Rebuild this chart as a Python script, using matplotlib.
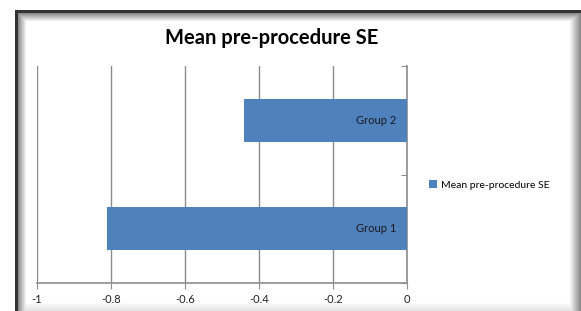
import numpy as np
import matplotlib
matplotlib.use('Agg')
import matplotlib.pyplot as plt

# dados
grupos = ['Group 1', 'Group 2']
valores = [-0.81, -0.44]
serie = 'Mean pre-procedure SE'
ticks_x = [-1, -0.8, -0.6, -0.4, -0.2, 0]

plt.rcParams['font.family'] = ['Lato', 'DejaVu Sans']

fig = plt.figure(figsize=(5.81, 3.11), dpi=100)

# moldura da captura de tela (borda escura + sombras)
H, W = 311, 581
img = np.ones((H, W, 3))
for i in range(8):
    v = 0.55 + 0.45 * i / 8
    img[13 + i, 18:W, :] = np.minimum(img[13 + i, 18:W, :], v)
    img[13:H, 18 + i, :] = np.minimum(img[13:H, 18 + i, :], v)
for i in range(12):
    v = 1.0 - 0.5 * i / 12
    img[13:H, 569 + i, :] = np.minimum(img[13:H, 569 + i, :], v)
for i in range(9):
    v = 1.0 - 0.12 * i / 9
    img[302 + i, 18:W, :] = np.minimum(img[302 + i, 18:W, :], v)
img[10:13, 15:W, :] = 0.2
img[10:H, 15:18, :] = 0.2
bg = fig.add_axes([0, 0, 1, 1])
bg.imshow(img, aspect='auto', interpolation='nearest')
bg.axis('off')

ax = fig.add_axes([37 / W, 28 / H, 370 / W, 217 / H])
ax.patch.set_alpha(0)
ypos = np.arange(len(grupos))
ax.barh(ypos, valores, height=0.4, color='#4F81BD', label=serie, zorder=3)

ax.set_xlim(-1, 0)
ax.set_ylim(-0.5, 1.5)
ax.set_xticks(ticks_x)
ax.set_xticklabels(['-1', '-0.8', '-0.6', '-0.4', '-0.2', '0'], fontsize=8, color='#222222')
ax.set_yticks([-0.5, 0.5, 1.5])
ax.set_yticklabels([])
ax.grid(axis='x', color='#8c8c8c', linewidth=1, zorder=0)
ax.tick_params(axis='x', length=4, color='#8c8c8c', pad=4)
ax.tick_params(axis='y', length=4, color='#8c8c8c', direction='in', left=False, right=True)

for s in ['top', 'left']:
    ax.spines[s].set_visible(False)
ax.spines['bottom'].set_color('#8c8c8c')
ax.spines['right'].set_color('#8c8c8c')
ax.spines['bottom'].set_linewidth(1.2)
ax.spines['right'].set_linewidth(1.2)

for y, g in zip(ypos, grupos):
    ax.text(-0.03, y, g, ha='right', va='center', fontsize=8, color='#1a1a1a', zorder=4)

fig.text(272 / W, 1 - 38 / H, 'Mean pre-procedure SE', ha='center', va='center',
         fontsize=14.5, fontweight='bold', color='black')

ax.legend(loc='center left', bbox_to_anchor=(424 / W, 1 - 185 / H), bbox_transform=fig.transFigure,
          frameon=False, fontsize=7.5, handlelength=0.7, handleheight=0.7, handletextpad=0.4,
          borderpad=0)

fig.savefig('out.png', dpi=100)
